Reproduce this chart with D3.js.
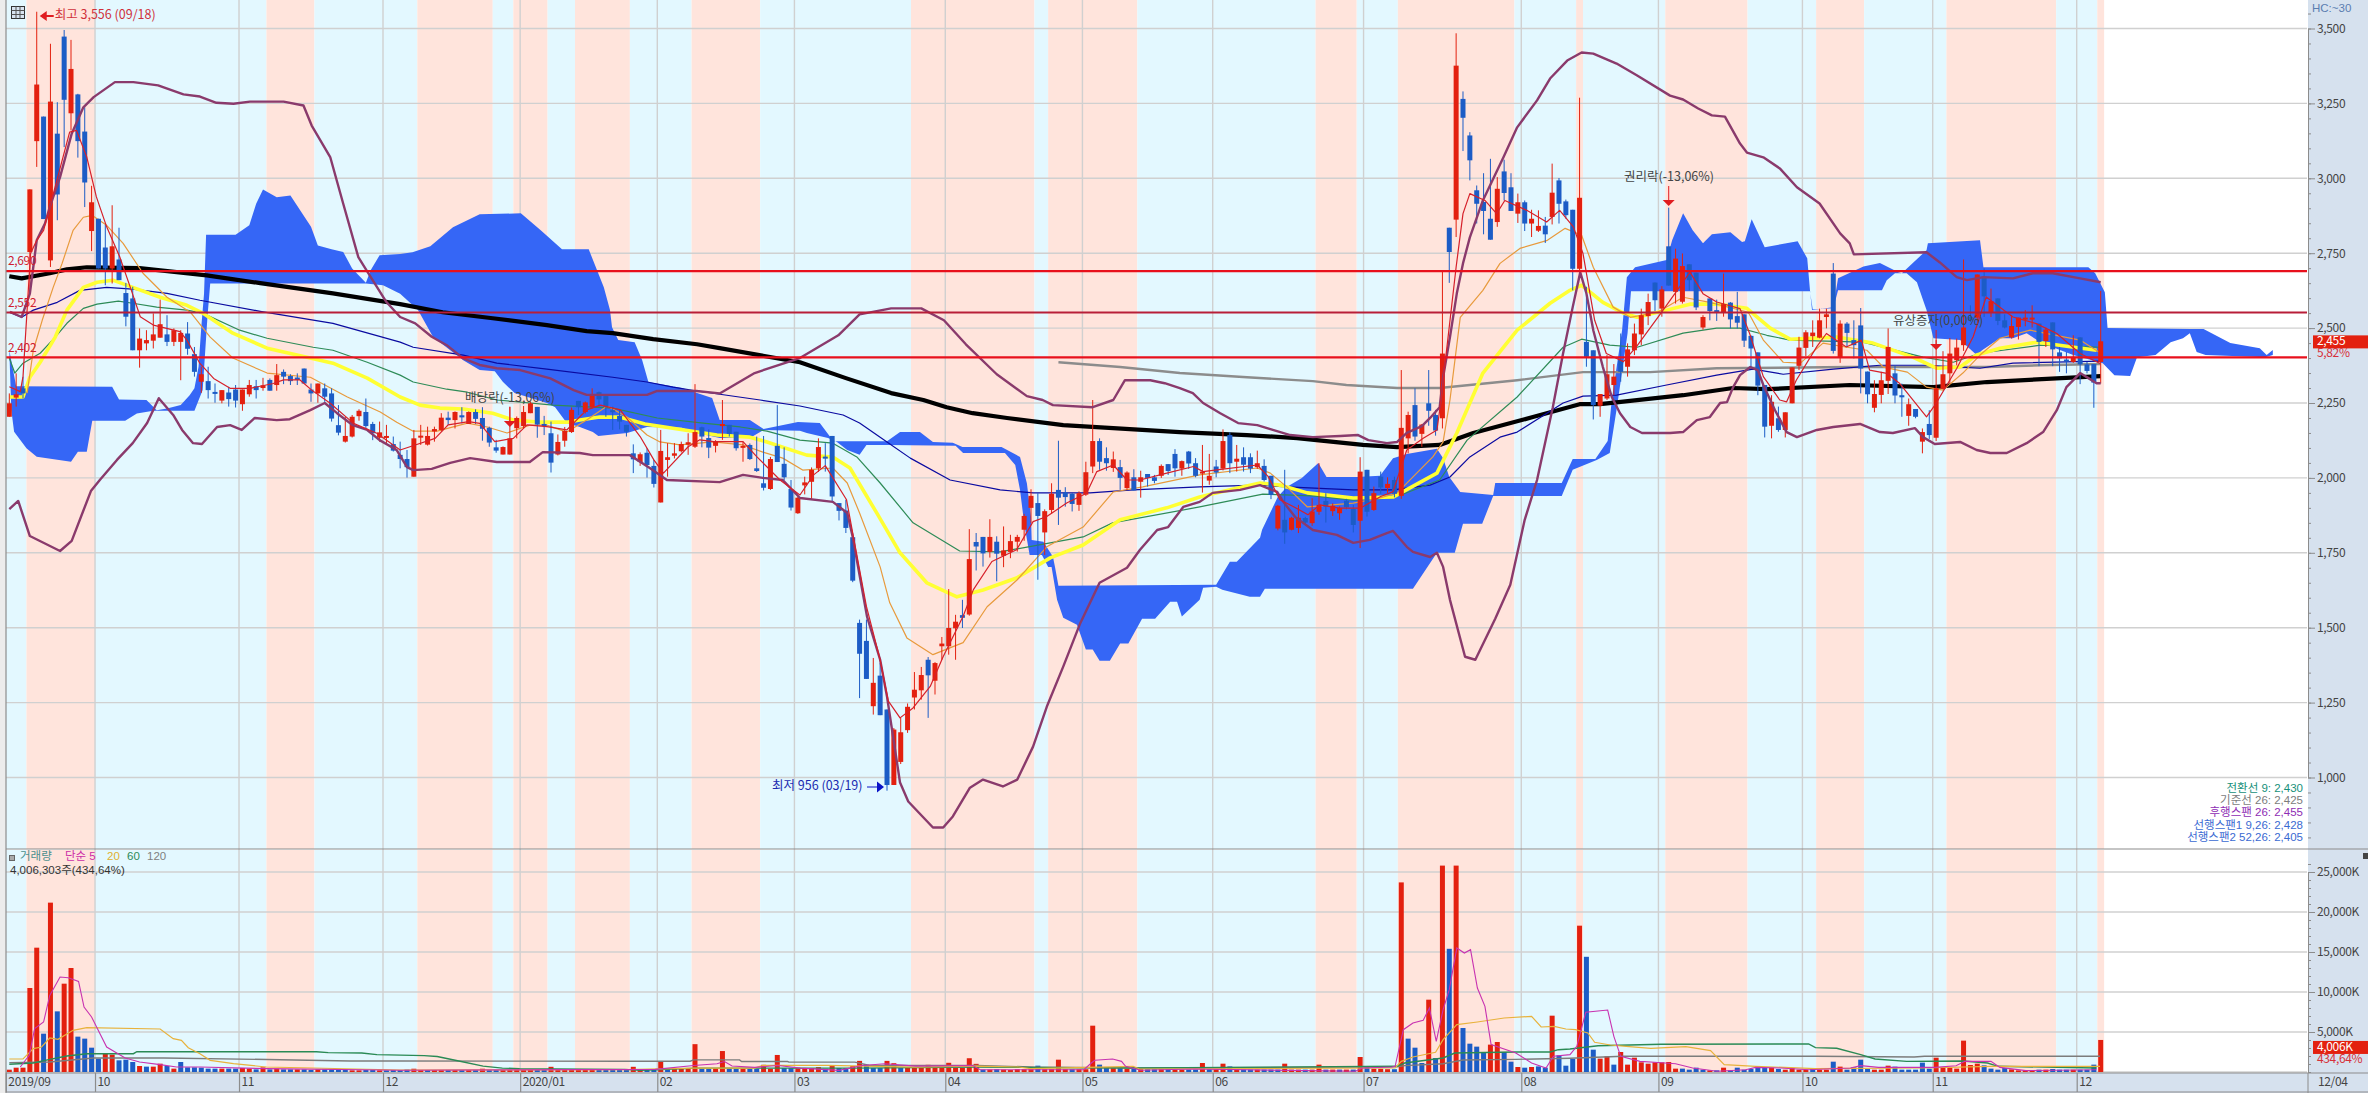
<!DOCTYPE html>
<html><head><meta charset="utf-8">
<script src="https://cdn.jsdelivr.net/npm/d3@7/dist/d3.min.js"></script>
<style>
html,body{margin:0;padding:0;background:#fff;overflow:hidden}
svg{display:block}
text{font-family:"Noto Sans CJK KR","Noto Sans",sans-serif;font-size:12px;letter-spacing:-.35px}
text.k{letter-spacing:0;font-size:12.5px}
text.lg{font-family:"Liberation Sans","Noto Sans CJK KR",sans-serif;letter-spacing:0;font-size:11.5px}
</style></head><body><svg id="c" width="2368" height="1093"></svg>
<script>
// [open, high, low, close] per trading day
const ohlc=[
[2204,2282,2204,2249],[2268,2349,2238,2279],[2299,2338,2265,2282],[2754,2963,2615,2963],[3124,3556,3038,3313],[3206,3206,2864,2864],[2726,3449,2704,3256],[3149,3254,2860,2946],[3473,3495,3104,3262],[3217,3462,3160,3365],
[3280,3282,3069,3124],[3156,3237,2904,2986],[2824,2975,2757,2920],[2865,2865,2699,2699],[2769,2846,2643,2699],[2699,2910,2649,2773],[2729,2835,2660,2660],[2617,2651,2506,2538],[2599,2638,2426,2426],[2426,2499,2368,2465],
[2449,2493,2426,2460],[2458,2549,2432,2479],[2468,2595,2468,2513],[2479,2543,2440,2454],[2454,2499,2440,2493],[2454,2493,2326,2484],[2482,2520,2411,2431],[2413,2437,2338,2354],[2321,2371,2284,2346],[2323,2371,2265,2293],
[2287,2315,2251,2284],[2258,2293,2249,2293],[2285,2304,2238,2263],[2295,2310,2235,2258],[2246,2295,2224,2295],[2279,2327,2271,2310],[2306,2327,2265,2293],[2300,2334,2291,2309],[2327,2332,2291,2291],[2310,2380,2291,2343],
[2354,2362,2313,2338],[2340,2346,2310,2323],[2335,2349,2310,2327],[2365,2365,2315,2315],[2295,2315,2254,2282],[2282,2315,2251,2315],[2299,2315,2254,2271],[2282,2299,2188,2198],[2176,2243,2142,2151],[2121,2204,2118,2140],
[2138,2210,2135,2204],[2206,2229,2191,2224],[2220,2265,2160,2173],[2180,2187,2126,2149],[2134,2188,2121,2152],[2135,2177,2115,2140],[2113,2138,2088,2091],[2077,2121,2032,2063],[2063,2093,2001,2036],[2004,2160,2004,2132],
[2136,2177,2110,2141],[2111,2171,2108,2140],[2155,2171,2121,2163],[2160,2216,2155,2201],[2201,2221,2177,2193],[2193,2222,2165,2220],[2209,2236,2182,2202],[2180,2222,2180,2220],[2220,2229,2180,2197],[2200,2236,2124,2164],
[2167,2171,2104,2118],[2102,2127,2084,2091],[2078,2105,2078,2103],[2078,2238,2078,2132],[2166,2205,2132,2200],[2173,2240,2165,2220],[2216,2255,2216,2249],[2237,2237,2134,2178],[2180,2207,2143,2174],[2149,2188,2018,2051],
[2078,2145,2075,2120],[2124,2170,2104,2157],[2153,2235,2150,2227],[2257,2257,2210,2236],[2220,2255,2215,2252],[2236,2299,2232,2276],[2286,2288,2238,2262],[2273,2275,2204,2236],[2226,2238,2160,2222],[2207,2230,2162,2188],
[2177,2177,2138,2154],[2082,2112,2016,2062],[2053,2085,2040,2079],[2084,2099,2001,2043],[2040,2060,1968,1980],[1918,2160,1918,2090],[2060,2116,2004,2069],[2074,2116,2065,2082],[2089,2121,2085,2113],[2111,2149,2077,2119],
[2104,2313,2100,2153],[2169,2171,2102,2138],[2133,2162,2066,2101],[2107,2126,2085,2122],[2173,2260,2127,2180],[2177,2177,2138,2147],[2154,2154,2091,2099],[2101,2121,2054,2107],[2110,2115,2060,2063],[2032,2138,2020,2023],
[1982,2140,1958,1967],[1963,2070,1960,2063],[2107,2243,2053,2053],[2047,2102,1993,2002],[1963,1993,1891,1901],[1882,1936,1880,1934],[1975,2004,1945,1985],[1987,2035,1927,2027],[2032,2132,2020,2103],[2071,2116,2021,2066],
[2140,2140,1921,1938],[1916,1916,1858,1890],[1891,1927,1816,1833],[1802,1815,1652,1657],[1516,1527,1265,1413],[1456,1527,1329,1329],[1238,1399,1210,1316],[1340,1382,1208,1208],[1227,1227,956,975],[975,1165,975,1160],
[1052,1199,1045,1151],[1158,1247,1149,1236],[1267,1352,1227,1293],[1291,1369,1260,1342],[1393,1402,1199,1341],[1323,1385,1277,1382],[1438,1469,1393,1447],[1438,1629,1410,1499],[1498,1543,1393,1520],[1542,1593,1499,1533],
[1544,1829,1540,1729],[1786,1816,1691,1771],[1803,1803,1704,1748],[1753,1862,1734,1803],[1787,1805,1655,1747],[1740,1838,1702,1758],[1753,1810,1732,1789],[1787,1810,1754,1803],[1827,1880,1790,1873],[1900,1962,1849,1940],
[1916,1949,1660,1873],[1818,1895,1743,1889],[1893,1982,1880,1947],[1960,2124,1843,1934],[1952,1969,1904,1936],[1947,1950,1888,1913],[1910,1955,1890,1949],[1944,2054,1940,2019],[2038,2260,2016,2123],[2123,2132,2027,2054],
[2066,2102,2024,2049],[2033,2088,2020,2062],[2036,2060,1960,2000],[1966,2022,1960,2018],[2002,2029,1958,1958],[1987,2024,1934,2002],[2013,2013,1971,2000],[2002,2010,1982,1990],[2007,2045,2000,2040],[2046,2046,2010,2023],
[2080,2096,2004,2032],[2031,2058,2007,2056],[2088,2090,2030,2048],[2049,2066,2002,2007],[2016,2110,1951,2021],[1991,2080,1977,2007],[2038,2060,2002,2018],[2031,2162,2025,2123],[2143,2152,2016,2049],[2054,2110,2021,2064],
[2069,2102,2021,2044],[2069,2082,2016,2031],[2036,2091,2030,2049],[2040,2062,1988,1993],[2007,2007,1929,1943],[1831,1910,1825,1907],[1860,2027,1780,1818],[1827,1870,1825,1867],[1833,1910,1816,1867],[1866,1870,1845,1851],
[1849,1932,1840,1888],[1887,2049,1877,1910],[1923,1949,1851,1904],[1889,1915,1873,1907],[1882,1905,1860,1900],[1924,1930,1895,1902],[1896,1910,1818,1843],[1857,2069,1766,2021],[2027,2027,1871,1887],[1893,1971,1890,1949],
[2004,2021,1947,1968],[1966,2002,1950,1980],[1993,2004,1935,1947],[1940,2360,1930,2167],[2132,2221,2082,2210],[2243,2299,2124,2138],[2147,2180,2104,2178],[2249,2360,2174,2224],[2210,2227,2141,2158],[2199,2688,2165,2415],
[2835,2835,2651,2754],[2862,3484,2804,3376],[3265,3290,3091,3202],[3143,3154,2993,3060],[2960,2976,2849,2915],[2921,3017,2813,2891],[2865,3065,2795,2795],[2854,3004,2838,2965],[3023,3062,2926,2951],[2970,3017,2891,2891],
[2882,2949,2851,2920],[2920,2926,2824,2849],[2849,2895,2804,2865],[2825,2893,2821,2841],[2842,2871,2784,2813],[2871,3049,2846,2952],[2993,3001,2849,2915],[2923,2929,2865,2877],[2895,2895,2626,2698],[2698,3269,2671,2935],
[2454,2638,2371,2404],[2426,2426,2195,2243],[2241,2280,2204,2280],[2265,2410,2260,2346],[2310,2380,2276,2338],[2393,2482,2321,2354],[2371,2449,2338,2429],[2426,2515,2410,2482],[2479,2565,2443,2543],[2540,2615,2510,2587],
[2652,2652,2557,2593],[2565,2640,2538,2629],[2773,2902,2642,2642],[2621,2765,2582,2732],[2588,2749,2582,2707],[2713,2713,2626,2660],[2685,2685,2560,2569],[2502,2543,2495,2537],[2599,2599,2526,2557],[2560,2595,2524,2554],
[2551,2682,2538,2580],[2585,2587,2499,2529],[2540,2621,2499,2518],[2546,2546,2437,2458],[2474,2476,2365,2432],[2419,2419,2276,2308],[2310,2310,2135,2171],[2174,2276,2132,2254],[2199,2238,2154,2160],[2160,2219,2135,2219],
[2249,2369,2249,2369],[2374,2471,2360,2435],[2434,2493,2406,2486],[2473,2526,2437,2485],[2468,2565,2466,2526],[2537,2565,2499,2546],[2682,2717,2415,2424],[2402,2526,2384,2515],[2515,2520,2437,2484],[2460,2526,2399,2443],
[2509,2567,2282,2365],[2355,2355,2249,2279],[2234,2326,2219,2280],[2277,2354,2249,2326],[2324,2499,2280,2437],[2349,2376,2249,2275],[2276,2315,2204,2269],[2207,2265,2174,2246],[2230,2230,2199,2204],[2121,2165,2082,2153],
[2180,2226,2130,2143],[2134,2460,2123,2299],[2297,2423,2295,2346],[2349,2467,2315,2415],[2393,2465,2376,2435],[2443,2729,2424,2502],[2537,2576,2520,2526],[2535,2679,2526,2679],[2671,2699,2537,2606],[2554,2632,2537,2590],
[2599,2599,2510,2524],[2526,2546,2499,2502],[2469,2543,2465,2507],[2504,2535,2462,2535],[2529,2560,2506,2535],[2529,2576,2502,2535],[2515,2515,2373,2454],[2457,2502,2437,2495],[2519,2519,2373,2429],[2419,2437,2354,2399],
[2395,2420,2349,2391],[2387,2476,2384,2404],[2469,2469,2313,2379],[2379,2387,2349,2357],[2380,2380,2234,2318],[2387,2624,2315,2456]];
// traded volume per day, thousand shares
const volumes=[290,540,540,10500,15540,4790,21170,7580,11040,13000,
4420,4170,3040,1670,2290,2170,1460,1540,1250,750,
670,670,1040,750,420,1250,580,580,540,420,
420,420,420,420,500,420,330,580,330,420,
330,330,330,330,250,330,330,250,330,330,
210,210,250,250,210,210,250,250,300,410,
250,250,250,250,250,250,250,250,250,410,
250,250,250,250,490,250,250,250,250,650,
250,250,250,250,250,250,250,250,250,250,
250,650,250,250,290,1310,400,450,450,450,
3480,400,400,450,2620,450,400,400,400,400,
900,400,2130,500,490,450,450,500,610,400,
740,500,500,740,1390,900,500,500,1390,1100,
500,500,500,500,900,500,500,1150,500,500,
1720,1020,300,300,350,300,250,350,350,350,
790,350,350,1540,350,350,350,350,5790,920,
500,500,500,420,420,350,350,350,350,350,
300,300,300,300,1125,350,350,1040,700,300,
300,300,300,300,300,300,1040,300,300,300,
300,920,300,300,300,300,300,1875,700,400,
400,350,350,23700,4170,3040,1125,9040,1750,25800,
15400,25800,5500,3540,3170,2500,3420,3750,2500,1290,
625,540,625,700,540,7040,2080,790,1625,18290,
14400,2790,1670,1960,920,2500,920,1790,1210,1040,
1210,1210,1250,420,420,290,540,290,210,210,
540,210,540,290,375,540,540,540,375,290,
500,290,290,375,290,290,1290,670,290,580,
1540,375,290,290,790,670,290,290,290,1170,
420,1790,625,540,420,3920,875,1040,830,420,
290,500,330,210,210,210,290,290,375,290,
290,290,290,290,920,4006];
// days whose volume bar colour differs from the close-to-close rule
const volumeUpDays=[59,69,74,79,91,95,100,104,110,112,118,120,123,124,128,134,137,140,153,158,174,177,186,191,197,216];
const volumeDownDays=[204,206,210];
// [day index, price] samples of each overlay
const cloudUpper=[[0,2426],[1,2306],[15,2304],[16,2262],[20,2260],[21.5,2226],[23,2232],[25,2243],[26.3,2276],[27,2299],[27.6,2371],[28,2504],[28.4,2615],[28.7,2812],[33,2812],[35,2843],[36,2915],[37,2963],[39,2937],[41,2943],[44,2838],[45,2776],[47,2763],[48.7,2754],[50,2699],[52,2651],[52.7,2693],[54,2743],[57,2747],[58.8,2753],[61.4,2773],[64.7,2837],[68.6,2880],[74.6,2883],[77.5,2827],[80.6,2763],[84.5,2763],[86.7,2636],[87.6,2560],[87.9,2503],[88.8,2460],[91.2,2453],[92.3,2393],[93.2,2320],[98.1,2300],[102.5,2267],[103.6,2193],[108,2193],[110,2163],[115,2187],[118.2,2183],[119.7,2137],[120,2122],[125,2122],[128,2122],[129.9,2153],[132.8,2153],[134.7,2120],[137.6,2117],[139,2103],[144.7,2103],[147.4,2070],[148.4,1982],[149,1870],[149.1,1793],[150.8,1787],[152.2,1737],[152.5,1703],[153,1640],[176,1643],[178,1720],[179,1720],[182.4,1800],[182.7,1827],[185,1937],[186.3,1970],[188.5,2000],[190.9,2050],[192.1,2003],[196.5,2003],[199.9,2007],[201.8,2066],[203.8,2080],[208.2,2097],[209.1,2066],[210,2003],[211.6,1953],[216.4,1943],[216.7,1983],[226.4,1983],[228,2063],[231.3,2063],[233.1,2123],[233.7,2260],[235.2,2493],[235.9,2670],[237.1,2703],[241.7,2727],[242.5,2793],[244.1,2883],[245.5,2827],[247,2783],[248.3,2813],[251,2820],[252.7,2787],[253.1,2790],[254.1,2863],[256,2770],[260.8,2790],[262.2,2733],[262.6,2627],[262.9,2560],[266,2570],[266.7,2666],[270.4,2706],[272.8,2717],[275.5,2686],[276,2683],[279.6,2760],[279.8,2783],[287.4,2793],[287.9,2703],[303.2,2703],[304.2,2683],[305.6,2620],[306,2500],[318,2497],[320,2497],[323.9,2450],[328.2,2433],[329.2,2410],[330.1,2427]];
const cloudLower=[[0.3,2226],[0.7,2154],[2.5,2099],[4,2071],[9,2054],[10,2087],[11.3,2087],[12.1,2191],[16.9,2191],[18.6,2215],[21,2224],[27,2224],[28.2,2293],[28.9,2538],[29.3,2649],[52,2649],[54.5,2643],[57,2615],[59.6,2560],[61.8,2470],[66.2,2393],[68.6,2360],[70.8,2356],[72,2320],[73.7,2283],[78.4,2250],[79.6,2236],[81.3,2183],[83.2,2170],[85.1,2153],[85.9,2140],[90.1,2150],[93,2170],[98.1,2167],[99.7,2153],[103.6,2133],[108,2133],[110,2160],[115.3,2157],[116.3,2150],[119.4,2133],[120.7,2120],[122.2,2093],[124,2077],[125,2110],[128.2,2110],[134.7,2108],[138,2107],[139.1,2083],[145.2,2083],[146.7,2043],[147.4,1960],[148,1849],[148.8,1743],[150.6,1743],[151.5,1703],[152,1703],[152.8,1593],[153.7,1533],[155.7,1510],[157,1427],[158,1427],[159,1390],[160.5,1390],[162,1447],[163.2,1447],[165.2,1530],[167.1,1530],[169.3,1587],[170.3,1587],[171,1537],[173.6,1593],[174.1,1633],[176,1637],[176.9,1627],[180.9,1603],[182.4,1603],[183.1,1630],[204.7,1630],[208.2,1750],[210.8,1750],[212,1847],[214.8,1847],[216.4,1940],[226.4,1940],[228,2027],[231.5,2060],[233.4,2083],[234.5,2243],[236,2483],[236.5,2623],[262.6,2623],[263,2563],[266,2566],[266.7,2626],[273.1,2626],[273.8,2660],[275,2683],[276.7,2683],[278.2,2653],[279.1,2593],[279.6,2560],[280.6,2466],[284.5,2460],[286.9,2410],[287.7,2426],[290.3,2466],[292.2,2466],[294.2,2483],[295.7,2460],[298,2436],[301,2410],[305.3,2383],[307,2343],[309.3,2340],[310.3,2403],[313,2410],[315.2,2453],[317,2466],[318,2483],[319,2420],[320.3,2410],[329,2403],[330.1,2410]];
const bollUpper=[[0.1,2554],[1.8,2537],[3,2615],[3.5,2704],[4,2793],[5.2,2849],[5.9,2904],[7.4,3004],[9.1,3149],[10.8,3237],[12.3,3271],[15.4,3321],[18.1,3321],[21.7,3310],[25.4,3280],[27.8,3273],[30.2,3252],[32.7,3249],[35.1,3256],[40,3256],[42.9,3243],[44.1,3176],[46.8,3071],[48.7,2915],[50.9,2737],[52.1,2693],[55,2587],[57,2537],[59.2,2516],[61.6,2471],[63.8,2443],[66.2,2399],[68.6,2377],[71.1,2366],[74.5,2360],[78.9,2332],[82.3,2293],[84.2,2277],[93,2277],[94.4,2290],[100.2,2290],[103.6,2282],[108.7,2350],[115.3,2400],[120.9,2476],[124,2546],[128.6,2566],[133,2566],[136.3,2526],[139.5,2446],[144,2346],[148.4,2273],[150.7,2260],[152.2,2243],[158,2236],[161,2260],[162.7,2326],[166.4,2326],[168.5,2316],[170.7,2300],[172.6,2283],[174.1,2250],[176.6,2216],[179.2,2183],[182,2176],[183.9,2163],[186.8,2143],[190.1,2136],[194.1,2140],[196.7,2143],[198.2,2126],[200.9,2116],[202.4,2120],[203.8,2150],[206,2173],[207.2,2200],[208.6,2236],[209.1,2336],[210.1,2470],[211.1,2616],[212,2716],[213,2803],[214.9,2926],[217.9,3070],[219.9,3170],[222.8,3260],[224.7,3333],[227.2,3393],[229.3,3420],[231,3416],[234.4,3383],[237.4,3343],[242.2,3276],[244.1,3263],[246.3,3233],[248.3,3210],[250.2,3206],[252.4,3116],[253.4,3086],[255.8,3070],[258.2,3033],[260.7,2970],[264,2916],[267,2816],[268.4,2783],[269,2746],[279.6,2753],[281.5,2720],[284,2670],[285.5,2660],[287.9,2670],[292.2,2666],[295.1,2683],[298,2683],[302,2666],[305,2653]];
const bollLower=[[0,1896],[1.3,1923],[3,1806],[7.4,1756],[9.1,1790],[11.9,1956],[13.2,1993],[15.7,2060],[18,2116],[20.1,2183],[21.8,2266],[23.9,2210],[25.2,2160],[26.8,2116],[28.1,2113],[30.3,2170],[32.2,2176],[33.9,2160],[35.8,2200],[39,2193],[40.9,2196],[43.9,2226],[46,2250],[47.8,2216],[50.1,2176],[52.2,2160],[54,2126],[56.5,2093],[58,2036],[58.9,2026],[61.6,2030],[64.3,2050],[67.2,2066],[71.1,2053],[75.9,2053],[77.8,2086],[83.2,2083],[85.1,2076],[90.5,2076],[93.4,2033],[95.9,1993],[103.6,1986],[107,2010],[109.9,2000],[112.8,1993],[115.3,1933],[120.1,1920],[122.2,1883],[123,1803],[125.1,1536],[127,1393],[128,1270],[129.9,983],[131.1,920],[134.7,833],[136.2,833],[137.6,870],[140.1,966],[142,993],[144.9,970],[147,993],[149.3,1103],[151.3,1236],[153.7,1370],[156.2,1516],[159,1650],[163,1700],[164.9,1760],[167.4,1826],[169,1836],[171.2,1903],[173.6,1920],[175.5,1950],[179.5,1960],[182.4,1976],[184.9,1953],[185.8,1920],[187.5,1870],[190.1,1826],[193.6,1810],[196,1783],[198.4,1793],[200.9,1816],[201.8,1823],[203.8,1770],[204.7,1753],[207.2,1736],[208.2,1750],[209.1,1703],[210.1,1593],[212.3,1403],[213.8,1393],[216.7,1530],[218.9,1643],[221,1860],[222.8,1993],[225.1,2236],[226.6,2416],[228,2570],[229.1,2686],[230,2616],[231,2493],[232.4,2370],[233.7,2270],[234.9,2216],[236.4,2170],[238.1,2150],[242.2,2150],[244.1,2153],[246.1,2193],[248,2203],[249.5,2250],[250.5,2253],[251.4,2303],[252.4,2343],[253.9,2370],[255,2360],[255.8,2310],[257.5,2226],[259.2,2153],[260.7,2136],[263.6,2160],[266,2170],[269.9,2180],[272.8,2153],[274.7,2150],[277.9,2166],[279.1,2136],[280.8,2113],[284.5,2120],[286.9,2093],[288.9,2083],[291.3,2083],[294.2,2116],[296.6,2153],[298.6,2226],[300,2303],[302,2350],[303.2,2333],[304.4,2316],[305,2316]];
const maBlack=[[0,2673],[1.8,2666],[5.9,2683],[8.4,2696],[11.3,2703],[19,2700],[28.8,2676],[36.6,2650],[47.2,2616],[57,2580],[63.2,2553],[70.5,2533],[78.4,2510],[84.2,2490],[88,2483],[93.9,2463],[100.3,2446],[103.6,2433],[115.3,2386],[122,2333],[128.6,2283],[133.3,2260],[136.7,2236],[140.5,2216],[145.5,2200],[153.7,2176],[163.4,2163],[170.7,2153],[180.5,2143],[187.8,2133],[197.4,2110],[202.4,2103],[208.6,2110],[213.5,2150],[222.2,2203],[229,2246],[232,2246],[244.1,2276],[251.4,2300],[256.3,2296],[268.4,2310],[280.6,2303],[288.4,2320],[305,2340]];
const maNavy=[[0,2553],[1.8,2536],[3.5,2560],[7,2586],[10.3,2626],[14.2,2636],[18,2630],[23,2616],[27.8,2593],[36.6,2556],[47.2,2516],[57,2453],[58.9,2436],[66.2,2410],[71.1,2383],[78.4,2363],[88,2336],[93,2320],[96.8,2303],[100.3,2290],[109.5,2260],[115.3,2240],[121.6,2210],[124,2183],[128,2120],[131.4,2066],[137.2,1993],[144.5,1960],[149.3,1950],[157.6,1950],[163.9,1960],[173.6,1970],[182,1976],[186.3,1970],[196,1960],[201.8,1960],[207.2,1976],[210.1,2003],[213,2070],[217.4,2136],[219.9,2153],[226.6,2250],[229.5,2273],[234.4,2276],[241.7,2310],[249,2343],[254.3,2363],[258.7,2346],[266,2363],[272.8,2376],[279.6,2376],[287.4,2366],[292.2,2383],[305,2390]];
const maGray=[[153,2386],[162,2370],[170.7,2350],[180.5,2336],[190.1,2323],[195,2310],[202.4,2300],[208.6,2300],[219.9,2326],[229.5,2353],[239.3,2353],[249,2366],[268.4,2370],[288.4,2370],[296.2,2376],[305,2380]];
const maGreen=[[0,2400],[0.8,2350],[2,2383],[4.5,2416],[6.7,2470],[8.4,2516],[10.8,2566],[12.8,2580],[15.9,2590],[18,2583],[21.5,2570],[25.9,2560],[28.2,2550],[33.6,2493],[37.6,2466],[44.3,2436],[47.2,2426],[52.2,2386],[57,2343],[58.9,2320],[63.8,2296],[66.8,2286],[71.1,2260],[79.3,2243],[88,2233],[94.5,2200],[101.2,2183],[106.6,2170],[110.5,2156],[115.3,2126],[120.1,2116],[123.6,2070],[127,1983],[131.8,1850],[138.6,1756],[144.5,1753],[151.8,1783],[156.6,1803],[160.9,1850],[173.6,1903],[182.8,1946],[190.1,1940],[196,1926],[201.8,1933],[208.6,1993],[212.6,2126],[219.9,2270],[226.6,2436],[229.3,2463],[233.4,2443],[237.4,2436],[244.1,2483],[249,2500],[252.4,2500],[256.3,2476],[259.7,2460],[270.3,2453],[279.1,2403],[283.5,2386],[287.4,2416],[296.2,2443],[305,2436]];
const maYellow=[[0,2270],[2,2270],[3,2336],[4.5,2386],[6.7,2470],[8.4,2560],[10.8,2636],[12.8,2653],[15.1,2660],[18,2636],[22,2603],[25.9,2576],[28.2,2550],[32.6,2483],[37.6,2433],[43.4,2403],[47.2,2383],[52.2,2333],[57,2270],[59.9,2243],[62.8,2233],[66.2,2230],[70.5,2216],[73.5,2193],[77.4,2186],[81.3,2186],[83.2,2193],[86.1,2203],[89,2203],[92.7,2180],[103.2,2143],[108,2136],[110.5,2120],[116.3,2076],[120.1,2070],[122.6,2033],[126.5,1883],[129.9,1750],[133.8,1650],[138.2,1603],[142,1626],[146.9,1666],[151.8,1733],[156.6,1776],[162,1860],[168.8,1900],[173.6,1936],[176.6,1953],[182.4,1983],[185.3,1976],[189.3,1950],[196,1933],[201.8,1936],[208.2,2016],[211.1,2150],[214.9,2350],[219.9,2493],[224.7,2583],[227.6,2626],[229.3,2643],[232.4,2586],[235.4,2550],[237.4,2536],[241.7,2560],[245.1,2580],[249,2580],[253.4,2566],[256.8,2500],[259.7,2463],[266.5,2470],[271.8,2450],[277.6,2403],[281.1,2366],[284.5,2370],[286.9,2410],[290.3,2433],[295.7,2453],[304.4,2426]];
const maOrange=[[2.6,2283],[3.5,2426],[4.8,2526],[6.4,2636],[7.7,2716],[9.3,2826],[10.8,2870],[12.1,2876],[14.2,2843],[16.6,2783],[19.5,2683],[23,2603],[26.4,2553],[29.3,2470],[32.6,2400],[37.6,2350],[43.9,2336],[49.3,2270],[54.1,2220],[56.5,2186],[58.9,2156],[62.4,2156],[66.8,2183],[69.7,2170],[72.6,2150],[75.9,2176],[78.4,2176],[81.3,2153],[84.2,2193],[87.2,2240],[90.1,2203],[93,2143],[94.9,2120],[97.8,2110],[102.6,2120],[107,2110],[109.9,2086],[112.8,2066],[115.7,2026],[120.1,2033],[122.2,1983],[124,1883],[127,1703],[128.4,1583],[130.9,1466],[134.7,1410],[139.1,1450],[142.6,1570],[147,1660],[151.3,1770],[156.6,1836],[161,1953],[165.3,1970],[173.6,2010],[182,2033],[183.9,2016],[186.3,1970],[189.3,1903],[196,1916],[199.9,1933],[202.4,1950],[207.6,2070],[209.1,2120],[210.1,2260],[211.6,2536],[214.9,2626],[217.4,2716],[220.3,2766],[224.3,2793],[226.9,2833],[229.3,2810],[231,2703],[233.9,2570],[236.4,2536],[240.4,2553],[244.1,2603],[248,2586],[253.6,2553],[255.8,2460],[258.7,2386],[261.2,2383],[264.5,2450],[268,2436],[270.9,2426],[273.3,2370],[276.8,2353],[279.6,2303],[282,2293],[284.9,2350],[287.4,2410],[290.3,2466],[294.7,2493],[302,2460],[305,2416]];
const maRed=[[0,2304],[1.6,2288],[2,2338],[3.1,2749],[4,2793],[5,2826],[5.9,2904],[8.8,3154],[9.8,3160],[11.3,3071],[12.7,2938],[14.2,2838],[16.1,2738],[17.8,2626],[19.1,2538],[21,2510],[24.9,2488],[25.9,2460],[27.8,2382],[29.8,2332],[32.2,2299],[35.1,2299],[38.5,2315],[40,2327],[42.4,2327],[44.1,2293],[46.8,2249],[50.2,2182],[53.6,2149],[57,2093],[59.2,2110],[62.1,2132],[64,2177],[67,2188],[68.6,2182],[70.8,2121],[73.5,2132],[75.5,2177],[78.4,2171],[81.3,2160],[84.2,2227],[86.2,2243],[89.1,2227],[92,2138],[94,2060],[95.4,2016],[99,2104],[100.7,2127],[102.7,2121],[107,2121],[109,2071],[112.4,1993],[115.3,1943],[117.3,2010],[119,2041],[122.1,1927],[123.1,1804],[125,1571],[127,1393],[128.2,1255],[129.9,1199],[131.8,1232],[134.3,1304],[136.2,1404],[139.1,1538],[140.6,1627],[143.3,1721],[146.9,1760],[149.3,1854],[151.3,1871],[154.2,1916],[157.1,1949],[158.6,2021],[161,2043],[163,1993],[164.9,1993],[168.8,2016],[172.7,2038],[174.1,2021],[176.1,2027],[182,2043],[183.6,2004],[185.3,1927],[187.3,1904],[189.4,1877],[191.1,1910],[194,1899],[197,1899],[200,1938],[201.8,1954],[203.8,2093],[206.2,2132],[208.2,2160],[208.6,2226],[211,2704],[212,2882],[213,2949],[215.2,2926],[216.9,2882],[218.1,2926],[221.3,2893],[224.2,2854],[226.1,2893],[228.1,2838],[229.5,2749],[231.2,2526],[232.9,2415],[235.4,2388],[237.3,2438],[240.5,2538],[242.9,2615],[245.1,2687],[247,2615],[249,2587],[252.4,2565],[253.8,2482],[255.8,2338],[258.2,2260],[259.2,2254],[260.6,2326],[263.6,2438],[265,2482],[267.9,2437],[270.1,2460],[271.3,2360],[273.8,2349],[275.7,2315],[279.6,2204],[281,2249],[284,2365],[286.4,2471],[288.3,2604],[292.2,2537],[295.6,2515],[298.6,2482],[302,2415],[304.9,2382]];
// [day index, thousand shares] samples of the volume averages
const volMa5=[[1.6,625],[2.9,2080],[3.7,5420],[5,6250],[5.9,9580],[7.4,11880],[8.6,11790],[10.1,11330],[10.9,8125],[12,6875],[14.2,3125],[16.9,1750],[19,1250],[22,920],[24.4,625],[27.8,625],[37.5,420],[57,210],[94.2,330],[99.8,820],[103.2,1025],[104.3,1310],[105.4,740],[108.7,575],[112.1,820],[115.4,490],[121,205],[124.4,820],[127.7,1025],[132.2,740],[140.5,820],[141.6,290],[156.7,290],[157.8,1125],[158.3,1460],[160.9,1625],[162.2,1330],[162.8,710],[165,210],[172.8,375],[196.3,85],[197.4,500],[201.6,625],[202.1,710],[203.3,5290],[204.7,6125],[206.2,6460],[207.1,8000],[208.1,3830],[209.1,7790],[210,10290],[211.1,15500],[212.2,14875],[213.1,15290],[214.1,10500],[215.2,8210],[216.1,3420],[219.7,2375],[222,1125],[224.1,500],[225.2,1960],[227.6,2170],[228.6,3210],[229.9,7460],[233.1,7750],[234,4460],[235,1960],[237.8,1330],[239.9,1210],[243,1040],[245.5,500],[249.1,85],[253.2,290],[254.7,580],[258.3,500],[262.4,290],[268.5,500],[270,790],[272.6,580],[280.8,580],[283.9,790],[285.2,1330],[289,1330],[290.3,580],[294.1,170],[304.4,290]];
const volMa20=[[0,1625],[2,1625],[3.5,2920],[4.7,3125],[5.9,4250],[7.1,4080],[9.3,5210],[11.3,5540],[22,5375],[23.9,4170],[25.1,3960],[26.1,3040],[27.8,2290],[29.3,1460],[32.7,1040],[37.5,625],[44.3,500],[57,250],[89.8,290],[99.8,490],[108.7,490],[109.9,820],[119.3,820],[132.2,615],[141.1,740],[147.2,625],[148.9,415],[163.9,710],[164.8,375],[202.1,500],[203,1330],[204.7,1875],[208,2460],[209.1,4040],[211.1,5920],[214.1,6250],[218,6750],[222,6960],[223.4,5625],[225.3,5710],[227,5375],[228.4,5290],[230.2,4875],[231.2,3710],[233.5,3375],[235.8,3210],[239.4,2960],[244.5,3170],[248.1,2670],[250.1,920],[254.7,710],[263.4,420],[278.8,500],[289,710],[304.9,710]];
const volMa60=[[0,960],[3.5,1125],[5.9,1580],[8.4,2000],[11.3,2290],[18.1,2290],[18.6,2540],[44.8,2540],[46.5,2420],[51.4,2375],[53.6,2170],[60.5,2050],[62.4,1930],[65.2,1435],[69.1,740],[71.9,490],[74.4,410],[89.8,330],[92,205],[94.2,290],[100.4,490],[111.5,490],[123.3,490],[141.1,615],[148.9,580],[165,500],[202.4,710],[203.5,1125],[209.1,1750],[210.8,2375],[219.7,2500],[224.7,2500],[225.9,2790],[227.6,2875],[231.7,3290],[240.9,3460],[262.4,3500],[263.4,3040],[266.5,2960],[270,2170],[272.1,1625],[276.7,1330],[284.9,1375],[288.5,1125],[290,710],[304.4,500]];
const volMa120=[[0,1170],[5.9,1250],[12.3,1750],[22.5,1750],[39.5,1540],[49.7,1375],[57,1375],[89.8,1350],[99.3,1350],[99.8,1517],[106.5,1517],[106.8,1310],[113.5,1310],[113.7,1230],[123.3,1230],[125.5,820],[141.1,820],[150,600],[165,500],[202.4,640],[203.5,800],[209.1,1040],[212,1500],[219.7,1580],[227.6,1710],[235.3,1960],[263.4,1960],[277.8,1875],[279.3,1960],[304.9,1960]];
// alternating background zones: edges as day indices, first zone is blue
const zoneEdges=[-0.5,2.5,12.5,37.5,44.5,59.5,70.5,73.5,78.5,82.5,90.5,99.5,109.5,131.5,149.5,151.5,164.5,190.5,196.5,202.5,219.5,228.5,229.5,241.5,253.5,263.5,270.5,282.5,298.5,304.5,305.5];
const monthIndex=[-0.5,12.5,33.5,54.5,74.5,94.5,114.5,136.5,156.5,175.5,197.5,220.5,240.5,261.5,280.5,301.5];
const monthLabels=["2019/09","10","11","12","2020/01","02","03","04","05","06","07","08","09","10","11","12"];
const priceTicks=[1000,1250,1500,1750,2000,2250,2500,2750,3000,3250,3500];
const priceMinor=d3.range(800,3600,50);
const volTicks=[5000,10000,15000,20000,25000];
const volMinor=d3.range(0,27000,1000);
const levelValues=[2690,2552,2402];
const levelLabels=["2,690","2,552","2,402"];
const levelColors=["#e8101c","#b81e38","#e8101c"];
const ichimokuLegend=[["전환선 9: 2,430","#16907a"],["기준선 26: 2,425","#7c7c7c"],["후행스팬 26: 2,455","#8e2cb4"],["선행스팬1 9,26: 2,428","#3a6ad2"],["선행스팬2 52,26: 2,405","#3a6ad2"]];
const volLegend=[["거래량","#4a8f8c",20],["단순 5","#cc2ea8",65],["20","#e0b030",107],["60","#2e8b57",127],["120","#808080",147]];

const L=6,R=2308,W=2368,H=1093,PB=849,VB=1073;
const UP="#e3200f",DN="#1c5cc6";
const svg=d3.select("#c");
const x=d3.scaleLinear().domain([0,305]).range([9.3,2100.7]);
const y=d3.scaleLinear().domain([1000,3500]).range([777.5,28.5]);
const vy=d3.scaleLinear().domain([0,25000]).range([1072,872]);
const defs=svg.append("defs");
defs.append("clipPath").attr("id","cp").append("rect").attr("x",L).attr("y",0).attr("width",R-L).attr("height",PB);
defs.append("clipPath").attr("id","cv").append("rect").attr("x",L).attr("y",PB+1).attr("width",R-L).attr("height",VB-PB-1);

svg.append("rect").attr("width",W).attr("height",H).attr("fill","#fff");
svg.append("rect").attr("width",L).attr("height",H).attr("fill","#ececec");
svg.append("rect").attr("x",R).attr("width",W-R).attr("height",H).attr("fill","#d6e1ee");
svg.append("rect").attr("x",L).attr("y",VB).attr("width",W-L).attr("height",H-VB).attr("fill","#d6e1ee");

const zones=d3.pairs(zoneEdges).map((p,i)=>({a:p[0],b:p[1],k:i%2}));
[[0,PB],[PB+1,VB-PB-1]].forEach(([t,h])=>{
 svg.append("g").selectAll("rect").data(zones).join("rect")
  .attr("x",d=>x(d.a)).attr("width",d=>x(d.b)-x(d.a)).attr("y",t).attr("height",h)
  .attr("fill",d=>d.k?"#ffe4dc":"#e3f8ff");
});
const grid=svg.append("g").attr("stroke","#d0d0d0").attr("stroke-width",1.4);
priceTicks.forEach(p=>grid.append("line").attr("x1",L).attr("x2",R-1).attr("y1",y(p)).attr("y2",y(p)));
volTicks.concat([0]).forEach(p=>grid.append("line").attr("x1",L).attr("x2",R-1).attr("y1",vy(p)).attr("y2",vy(p)));
monthIndex.slice(1).forEach(m=>grid.append("line").attr("x1",x(m)).attr("x2",x(m)).attr("y1",0).attr("y2",VB));

const main=svg.append("g").attr("clip-path","url(#cp)");
const pl=d3.line().x(d=>x(d[0])).y(d=>y(d[1]));
main.append("path").attr("d",pl(cloudUpper.concat(cloudLower.slice().reverse()))+"Z").attr("fill","#3566f6");
function line(g,data,col,w){g.append("path").attr("d",pl(data)).attr("fill","none").attr("stroke",col).attr("stroke-width",w).attr("stroke-linejoin","round");}
line(main,maGray,"#8c8c8c",2.4);
line(main,maBlack,"#000",4.2);
line(main,maNavy,"#0a0aa0",1.2);
line(main,maGreen,"#2e8b57",1.2);
line(main,maYellow,"#ffff33",3.6);
line(main,maOrange,"#e89a3c",1.2);
const cs=main.append("g");
cs.selectAll("line").data(ohlc).join("line")
 .attr("x1",(d,i)=>x(i)).attr("x2",(d,i)=>x(i)).attr("y1",d=>y(d[1])).attr("y2",d=>y(d[2]))
 .attr("stroke",d=>d[3]>=d[0]?UP:DN).attr("stroke-width",1);
cs.selectAll("rect").data(ohlc).join("rect")
 .attr("x",(d,i)=>x(i)-2.5).attr("width",5)
 .attr("y",d=>y(Math.max(d[0],d[3]))).attr("height",d=>Math.max(2,Math.abs(y(d[0])-y(d[3]))))
 .attr("fill",d=>d[3]>=d[0]?UP:DN);
line(main,bollUpper,"#8a3a6c",2.4);
line(main,bollLower,"#8a3a6c",2.4);
line(main,maRed,"#d6202a",1.2);
levelValues.forEach((v,i)=>main.append("line").attr("x1",L).attr("x2",R-1).attr("y1",y(v)).attr("y2",y(v)).attr("stroke",levelColors[i]).attr("stroke-width",2.2));
levelValues.forEach((v,i)=>svg.append("text").attr("x",8).attr("y",y(v)-9).attr("dominant-baseline","middle").attr("fill","#d02030").text(levelLabels[i]));

const vol=svg.append("g").attr("clip-path","url(#cv)");
vol.selectAll("rect").data(volumes).join("rect")
 .attr("x",(d,i)=>x(i)-2.5).attr("width",5)
 .attr("y",d=>vy(d)).attr("height",d=>Math.max(1,vy(0)-vy(d)))
 .attr("fill",(d,i)=>volumeDownDays.includes(i)?DN:(volumeUpDays.includes(i)||i==0||ohlc[i][3]>=ohlc[i-1][3])?UP:DN);
const vl=d3.line().x(d=>x(d[0])).y(d=>vy(d[1]));
[[volMa120,"#7c7c7c",1.4],[volMa60,"#2a8a55",1.4],[volMa20,"#e8b23c",1.2],[volMa5,"#c832b0",1.1]].forEach(([a,c,w])=>
 vol.append("path").attr("d",vl(a)).attr("fill","none").attr("stroke",c).attr("stroke-width",w));

const fr=svg.append("g").attr("stroke","#8c8c8c").attr("stroke-width",1.2);
fr.append("line").attr("x1",L).attr("x2",L).attr("y1",0).attr("y2",H);
fr.append("line").attr("x1",L).attr("x2",W).attr("y1",PB).attr("y2",PB);
fr.append("line").attr("x1",L).attr("x2",W).attr("y1",VB).attr("y2",VB);
fr.append("line").attr("x1",L).attr("x2",W).attr("y1",H-1).attr("y2",H-1);

function axis(scale,vals,size,fmt){
 const a=d3.axisRight(scale).tickValues(vals).tickSize(size).tickSizeOuter(0);
 a.tickFormat(fmt||"");
 const g=svg.append("g").attr("transform",`translate(${R},0)`).call(a);
 g.select(".domain").attr("stroke","#8c8c8c");
 g.selectAll(".tick line").attr("stroke","#8c8c8c");
 g.selectAll("text").attr("fill","#444").attr("x",9).attr("font-family",null).attr("font-size",null);
 return g;
}
const fmt=d3.format(",");
axis(y,priceMinor.filter(v=>y(v)>2&&y(v)<PB),3);
axis(y,priceTicks,7,fmt);
axis(vy,volMinor.filter(v=>vy(v)>PB+2),3);
axis(vy,volTicks,7,d=>fmt(d)+"K");
const xa=svg.append("g").attr("transform",`translate(0,${VB})`)
 .call(d3.axisBottom(x).tickValues(monthIndex).tickSize(19).tickSizeOuter(0).tickFormat((d,i)=>monthLabels[i]));
xa.select(".domain").remove();
xa.selectAll(".tick line").attr("stroke","#8c8c8c").attr("stroke-width",1.2);
xa.selectAll("text").attr("fill","#444").attr("text-anchor","start").attr("x",2).attr("y",10).attr("dominant-baseline","middle").attr("dy",null).attr("font-family",null).attr("font-size",null);
svg.append("text").attr("x",2318).attr("y",1083).attr("dominant-baseline","middle").attr("fill","#444").text("12/04");
svg.append("line").attr("x1",R).attr("x2",R).attr("y1",VB).attr("y2",H).attr("stroke","#8c8c8c");
svg.append("text").attr("class","lg").attr("x",2312).attr("y",9).attr("dominant-baseline","middle").attr("fill","#5a7db0").text("HC:~30");

function tag(yv,txt,sub){
 svg.append("rect").attr("x",2313).attr("y",yv-6.5).attr("width",55).attr("height",13).attr("fill","#e3200f");
 svg.append("text").attr("x",2317).attr("y",yv).attr("dominant-baseline","middle").attr("fill","#fff").text(txt);
 svg.append("text").attr("x",2317).attr("y",yv+12).attr("dominant-baseline","middle").attr("fill","#d6303a").text(sub);
}
tag(y(2455)+0.3,"2,455","5,82%");
tag(vy(4006)+7.5,"4,006K","434,64%");

function t(px,py,s,c,a,cl){return svg.append("text").attr("x",px).attr("y",py).attr("dominant-baseline","middle").attr("fill",c).attr("text-anchor",a||"start").attr("class",cl||"k").text(s);}
const hx=x(4), hy=16;
svg.append("path").attr("d",`M${hx+3} ${hy}l7 -5v4h7v2h-7v4z`).attr("fill","#e01c20");
t(hx+18,hy,"최고 3,556 (09/18)","#d0303a");
const lx=x(128);
t(lx-115,787,"최저 956 (03/19)","#1a2ab0");
svg.append("path").attr("d",`M${lx-20} 786.5h10v-5l7 5.5l-7 5.5v-5h-10z`).attr("fill","#0a14c8");
function drop(i,top,label,lx0,ly){
 const px=x(i);
 svg.append("line").attr("x1",px).attr("x2",px).attr("y1",top).attr("y2",top+14).attr("stroke","#e01c20");
 svg.append("path").attr("d",`M${px-6} ${top+14}h12l-6 6z`).attr("fill","#e01c20");
 t(lx0,ly,label,"#444");
}
drop(73,407,"배당락(-13,06%)",465,399);
drop(242,186,"권리락(-13,06%)",1624,178);
drop(281,330,"유상증자(0,00%)",1893,322);

ichimokuLegend.forEach((d,i)=>t(2303,789+i*12.2,d[0],d[1],"end","lg"));
svg.append("rect").attr("x",9.5).attr("y",855.5).attr("width",5).attr("height",5).attr("fill","#aaa").attr("stroke","#666");
volLegend.forEach(d=>t(d[2],857,d[0],d[1],"start","lg"));
t(10,871,"4,006,303주(434,64%)","#333","start","lg");
const ic=svg.append("g").attr("fill","none").attr("stroke","#333");
ic.append("rect").attr("x",11.5).attr("y",6.5).attr("width",13).attr("height",12).attr("fill","#d8e4f0");
ic.append("path").attr("d","M11.5 10.5h13M11.5 14.5h13M16 6.5v12M20 6.5v12").attr("stroke","#555");
svg.append("rect").attr("x",2363).attr("y",853).attr("width",5).attr("height",6).attr("fill","#444");
</script></body></html>
